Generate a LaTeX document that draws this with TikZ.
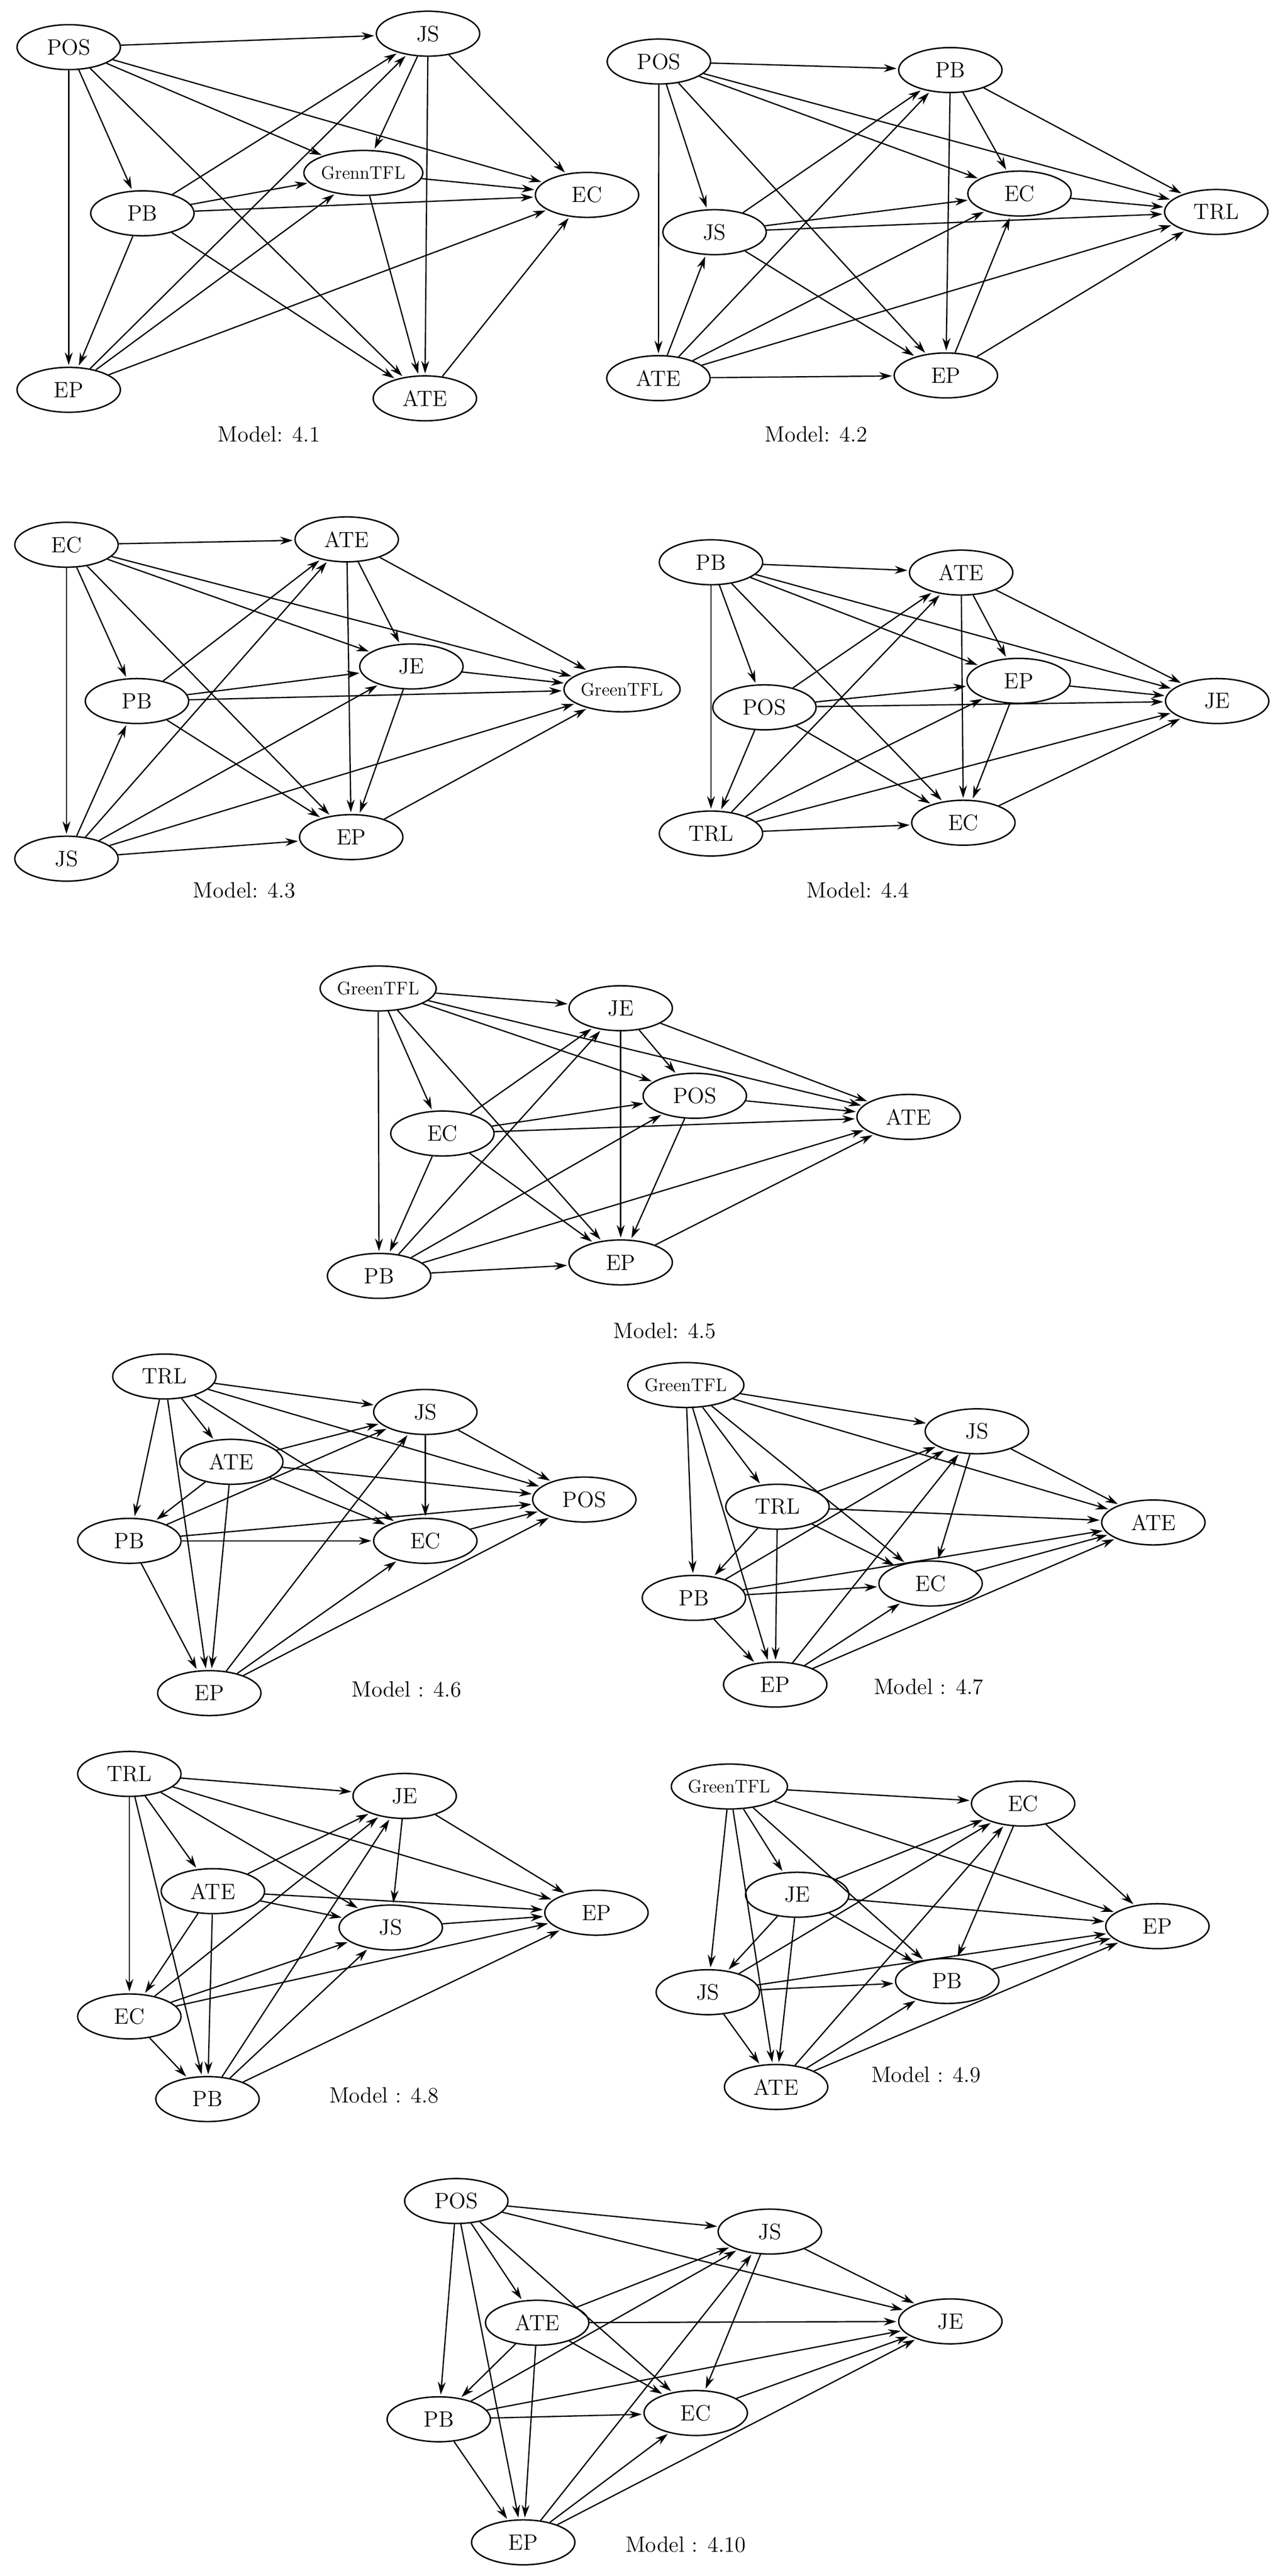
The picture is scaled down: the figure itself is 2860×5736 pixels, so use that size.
\documentclass[tikz,border=0pt]{standalone}
\usepackage{tikz}
\usetikzlibrary{shapes,arrows.meta}
\begin{document}
\begin{tikzpicture}[x=0.01cm,y=-0.01cm]
\tikzstyle{var}=[draw,ellipse,line width=0.9pt,minimum width=2.3cm,minimum height=1cm,inner sep=0pt,font=\fontsize{14}{16}\selectfont]
\tikzstyle{long}=[var,font=\fontsize{11.5}{13}\selectfont]
\tikzstyle{edge}=[line width=0.8pt,-{Stealth[length=8pt,width=5pt]},shorten >=1pt]
\tikzstyle{title}=[font=\fontsize{14}{16}\selectfont]
\useasboundingbox (0,0) rectangle (2860,5736);
% Model 4.1
\node[var] (m1pos) at (153,105) {POS};
\node[var] (m1js) at (953,75) {JS};
\node[long] (m1gtfl) at (809,385) {GrennTFL};
\node[var] (m1pb) at (317,475) {PB};
\node[var] (m1ec) at (1307,434) {EC};
\node[var] (m1ep) at (153,868) {EP};
\node[var] (m1ate) at (946,887) {ATE};
\node[title] (m1cap) at (599,967) {Model: 4.1};
\foreach \a/\b in {pos/js,pos/pb,pos/ep,pos/ate,pos/gtfl,pos/ec,js/gtfl,js/ate,js/ec,
  pb/js,pb/gtfl,pb/ec,pb/ep,pb/ate,gtfl/ec,gtfl/ate,ep/js,ep/gtfl,ep/ec,ate/ec}
  \draw[edge] (m1\a) -- (m1\b);
% Model 4.2
\node[var] (m2pos) at (1467,137) {POS};
\node[var] (m2pb) at (2116,156) {PB};
\node[var] (m2ec) at (2270,431) {EC};
\node[var] (m2trl) at (2708,472) {TRL};
\node[var] (m2js) at (1591,517) {JS};
\node[var] (m2ate) at (1466,842) {ATE};
\node[var] (m2ep) at (2106,836) {EP};
\node[title] (m2cap) at (1817,967) {Model: 4.2};
\foreach \a/\b in {pos/pb,pos/js,pos/ate,pos/ep,pos/ec,pos/trl,pb/ec,pb/ep,pb/trl,
  js/pb,js/ec,js/trl,js/ep,ate/js,ate/pb,ate/ec,ate/trl,ate/ep,ec/trl,ep/ec,ep/trl}
  \draw[edge] (m2\a) -- (m2\b);
% Model 4.3
\node[var] (m3ec) at (148,1213) {EC};
\node[var] (m3ate) at (772,1201) {ATE};
\node[var] (m3je) at (916,1484) {JE};
\node[long] (m3gtfl) at (1385,1535) {GreenTFL};
\node[var] (m3pb) at (305,1561) {PB};
\node[var] (m3ep) at (782,1864) {EP};
\node[var] (m3js) at (148,1912) {JS};
\node[title] (m3cap) at (544,1982) {Model: 4.3};
\foreach \a/\b in {ec/ate,ec/pb,ec/js,ec/ep,ec/je,ec/gtfl,ate/ep,ate/je,ate/gtfl,
  pb/ate,pb/je,pb/gtfl,pb/ep,js/pb,js/ate,js/je,js/gtfl,js/ep,je/gtfl,je/ep,ep/gtfl}
  \draw[edge] (m3\a) -- (m3\b);
% Model 4.4
\node[var] (m4pb) at (1583,1252) {PB};
\node[var] (m4ate) at (2140,1275) {ATE};
\node[var] (m4ep) at (2268,1516) {EP};
\node[var] (m4je) at (2710,1561) {JE};
\node[var] (m4pos) at (1702,1575) {POS};
\node[var] (m4trl) at (1583,1856) {TRL};
\node[var] (m4ec) at (2145,1832) {EC};
\node[title] (m4cap) at (1910,1982) {Model: 4.4};
\foreach \a/\b in {pb/ate,pb/pos,pb/trl,pb/ec,pb/ep,pb/je,ate/ec,ate/ep,ate/je,
  pos/ate,pos/ep,pos/je,pos/ec,pos/trl,trl/ate,trl/ep,trl/je,trl/ec,ep/je,ep/ec,ec/je}
  \draw[edge] (m4\a) -- (m4\b);
% Model 4.5
\node[long] (m5gtfl) at (842,2201) {GreenTFL};
\node[var] (m5je) at (1382,2245) {JE};
\node[var] (m5pos) at (1547,2440) {POS};
\node[var] (m5ate) at (2023,2487) {ATE};
\node[var] (m5ec) at (985,2524) {EC};
\node[var] (m5pb) at (844,2841) {PB};
\node[var] (m5ep) at (1382,2811) {EP};
\node[title] (m5cap) at (1480,2963) {Model: 4.5};
\foreach \a/\b in {gtfl/je,gtfl/ec,gtfl/pb,gtfl/ep,gtfl/pos,gtfl/ate,je/ep,je/pos,je/ate,
  ec/je,ec/pos,ec/ate,ec/ep,ec/pb,pb/je,pb/pos,pb/ate,pb/ep,pos/ate,pos/ep,ep/ate}
  \draw[edge] (m5\a) -- (m5\b);
% Model 4.6
\node[var] (m6trl) at (366,3065) {TRL};
\node[var] (m6js) at (947,3144) {JS};
\node[var] (m6ate) at (515,3255) {ATE};
\node[var] (m6pos) at (1301,3339) {POS};
\node[var] (m6pb) at (288,3431) {PB};
\node[var] (m6ec) at (947,3431) {EC};
\node[var] (m6ep) at (466,3770) {EP};
\node[title] (m6cap) at (905,3762) {Model : 4.6};
\foreach \a/\b in {trl/js,trl/pos,trl/ate,trl/pb,trl/ep,trl/ec,js/ec,js/pos,ate/js,ate/pos,
  ate/pb,ate/ep,ate/ec,pb/js,pb/pos,pb/ec,pb/ep,ec/pos,ep/js,ep/ec,ep/pos}
  \draw[edge] (m6\a) -- (m6\b);
% Model 4.7
\node[long] (m7gtfl) at (1527,3084) {GreenTFL};
\node[var] (m7js) at (2175,3187) {JS};
\node[var] (m7trl) at (1731,3355) {TRL};
\node[var] (m7ate) at (2568,3390) {ATE};
\node[var] (m7ec) at (2072,3526) {EC};
\node[var] (m7pb) at (1545,3558) {PB};
\node[var] (m7ep) at (1726,3751) {EP};
\node[title] (m7cap) at (2068,3756) {Model : 4.7};
\foreach \a/\b in {gtfl/js,gtfl/ate,gtfl/trl,gtfl/pb,gtfl/ep,gtfl/ec,js/ate,js/ec,trl/js,trl/ate,
  trl/ec,trl/pb,trl/ep,pb/js,pb/ate,pb/ec,pb/ep,ec/ate,ep/js,ep/ec,ep/ate}
  \draw[edge] (m7\a) -- (m7\b);
% Model 4.8
\node[var] (m8trl) at (288,3950) {TRL};
\node[var] (m8je) at (901,3999) {JE};
\node[var] (m8ate) at (474,4211) {ATE};
\node[var] (m8ep) at (1328,4259) {EP};
\node[var] (m8js) at (870,4292) {JS};
\node[var] (m8ec) at (288,4490) {EC};
\node[var] (m8pb) at (462,4674) {PB};
\node[title] (m8cap) at (855,4666) {Model : 4.8};
\foreach \a/\b in {trl/je,trl/ep,trl/js,trl/ate,trl/ec,trl/pb,je/js,je/ep,ate/je,ate/ep,
  ate/js,ate/ec,ate/pb,js/ep,ec/je,ec/js,ec/ep,ec/pb,pb/je,pb/js,pb/ep}
  \draw[edge] (m8\a) -- (m8\b);
% Model 4.9
\node[long] (m9gtfl) at (1624,3978) {GreenTFL};
\node[var] (m9ec) at (2278,4016) {EC};
\node[var] (m9je) at (1775,4219) {JE};
\node[var] (m9ep) at (2577,4289) {EP};
\node[var] (m9pb) at (2109,4411) {PB};
\node[var] (m9js) at (1576,4436) {JS};
\node[var] (m9ate) at (1728,4647) {ATE};
\node[title] (m9cap) at (2062,4620) {Model : 4.9};
\foreach \a/\b in {gtfl/ec,gtfl/ep,gtfl/je,gtfl/js,gtfl/ate,gtfl/pb,ec/ep,ec/pb,je/ec,je/ep,
  je/pb,je/js,je/ate,js/ec,js/ep,js/pb,js/ate,pb/ep,ate/ec,ate/pb,ate/ep}
  \draw[edge] (m9\a) -- (m9\b);
% Model 4.10
\node[var] (m10pos) at (1016,4901) {POS};
\node[var] (m10js) at (1714,4969) {JS};
\node[var] (m10ate) at (1196,5172) {ATE};
\node[var] (m10je) at (2116,5169) {JE};
\node[var] (m10pb) at (977,5387) {PB};
\node[var] (m10ec) at (1549,5373) {EC};
\node[var] (m10ep) at (1165,5661) {EP};
\node[title] (m10cap) at (1527,5666) {Model : 4.10};
\foreach \a/\b in {pos/js,pos/je,pos/ate,pos/pb,pos/ep,pos/ec,js/je,js/ec,ate/js,ate/je,
  ate/ec,ate/pb,ate/ep,pb/js,pb/je,pb/ec,pb/ep,ec/je,ep/js,ep/ec,ep/je}
  \draw[edge] (m10\a) -- (m10\b);
\end{tikzpicture}
\end{document}
